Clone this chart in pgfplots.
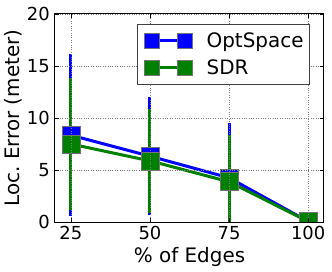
\documentclass[border=0pt]{standalone}
\usepackage{pgfplots}
\pgfplotsset{compat=1.18}
\usepackage{fontspec}
\setmainfont{DejaVu Sans}
\definecolor{mblue}{RGB}{0,0,255}
\definecolor{mgreen}{RGB}{0,128,0}
\begin{document}
\begin{tikzpicture}
\begin{axis}[
  at={(0,0)}, anchor=south west,
  scale only axis, width=269bp, height=208bp,
  xmin=20, xmax=105, ymin=0, ymax=20,
  xtick={25,50,75,100}, ytick={0,5,10,15,20},
  /pgf/number format/assume math mode=true,
  ticklabel style={font=\fontsize{18}{18}\selectfont},
  xticklabel style={anchor=base, yshift=-17bp, inner sep=0pt},
  yticklabel style={anchor=east, xshift=-5bp, inner sep=0pt},
  tick align=inside, major tick length=4bp,
  tick style={black, line width=0.5bp},
  axis line style={line width=1bp},
  grid=major,
  grid style={black!50, dotted, line width=0.5bp},
  axis on top,
  clip marker paths=true,
  xlabel={\% of Edges},
  ylabel={Loc.\ Error (meter)},
  label style={font=\fontsize{20}{20}\selectfont},
  xlabel style={at={(axis description cs:0.5,-0.196)}, anchor=base},
  ylabel style={at={(axis description cs:-0.156,0.5)}, anchor=center},
  legend style={at={(axis description cs:0.948,0.952)}, anchor=north east,
    font=\fontsize{20}{20}\selectfont, draw=black!75, line width=1bp,
    inner xsep=6bp, inner ysep=8bp, row sep=11bp,
    nodes={inner sep=0bp},
    /tikz/every odd column/.append style={column sep=13bp}},
  legend cell align=left,
  legend image code/.code={
    \draw[#1, mark size=7.5bp] plot coordinates {(0bp,0bp) (32.5bp,0bp)};
    \path (-7.5bp,0bp) (40bp,0bp);
  },
]
% error bars (drawn below all lines and markers)
\addplot[draw=none, mark=none, forget plot,
  error bars/.cd, y dir=both, y explicit, error mark=none,
  error bar style={draw=mblue, line width=3bp}]
  table[x=x, y=y, y error=e] {
x y e
25 8.35 7.8
50 6.33 5.67
75 4.25 5.25
100 0.05 0.02
};
\addplot[draw=none, mark=none, forget plot,
  error bars/.cd, y dir=both, y explicit, error mark=none,
  error bar style={draw=mgreen, line width=3bp}]
  table[x=x, y=y, y error=e] {
x y e
25 7.5 6.3
50 5.88 4.97
75 3.87 4.5
100 0.05 0.02
};
% lines with markers
\addplot[mblue, line width=3bp, mark=square*, mark size=9bp,
  mark options={fill=mblue, draw=black!55, line width=0.6bp}]
  table[x=x, y=y] {
x y
25 8.35
50 6.33
75 4.25
100 0.05
};
\addlegendentry{OptSpace}
\addplot[mgreen, line width=3bp, mark=square*, mark size=9bp,
  mark options={fill=mgreen, draw=black!55, line width=0.6bp}]
  table[x=x, y=y] {
x y
25 7.5
50 5.88
75 3.87
100 0.05
};
\addlegendentry{SDR}
\end{axis}
\pgfresetboundingbox
\path[use as bounding box] (-55bp,-50bp) rectangle (277bp,222bp);
\end{tikzpicture}
\end{document}
